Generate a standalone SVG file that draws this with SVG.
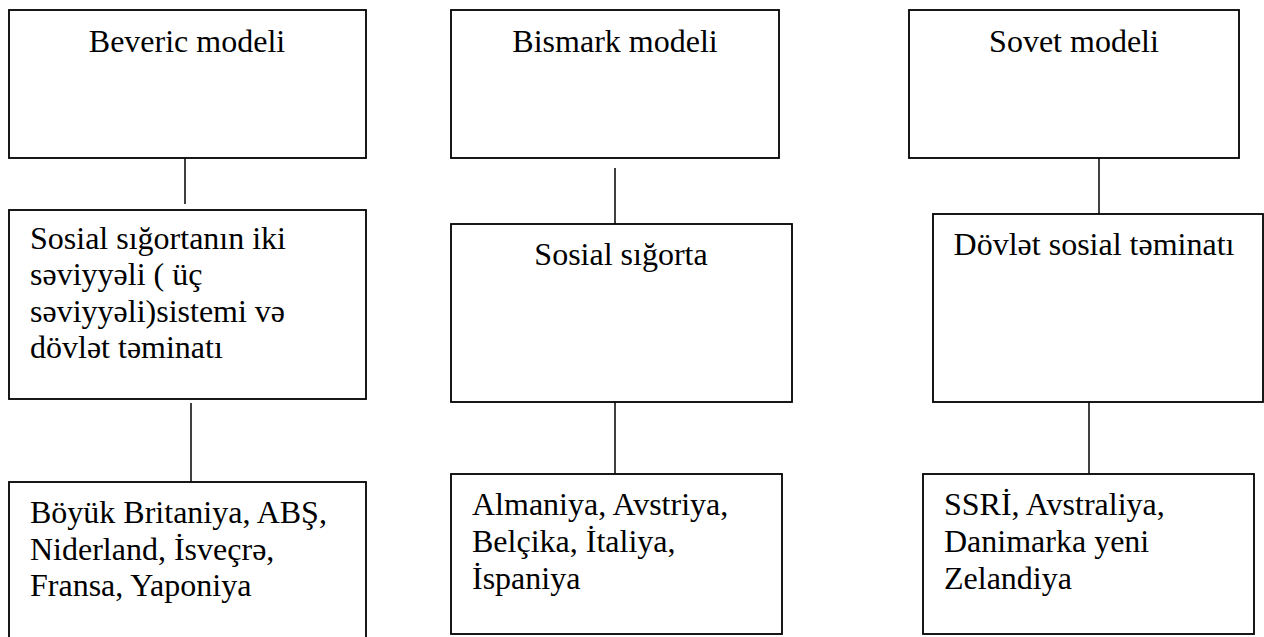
<svg xmlns="http://www.w3.org/2000/svg" width="1264" height="637" viewBox="0 0 1264 637">
  <style>
    .box { fill: #ffffff; stroke: #000000; stroke-width: 1.8; }
    .link { stroke: #000000; stroke-width: 1.5; fill: none; }
    .c { text-anchor: middle; }
  </style>
  <rect width="1264" height="637" fill="#ffffff"/>

  <!-- connectors -->
  <g id="connectors">
    <line class="link" x1="185" y1="158" x2="185" y2="204"/>
    <line class="link" x1="191" y1="403" x2="191" y2="482"/>
    <line class="link" x1="615" y1="168" x2="615" y2="224"/>
    <line class="link" x1="615" y1="399" x2="615" y2="474"/>
    <line class="link" x1="1099" y1="158" x2="1099" y2="214"/>
    <line class="link" x1="1089" y1="402" x2="1089" y2="482"/>
  </g>

  <g font-family="Liberation Serif, DejaVu Serif, serif" font-size="32" fill="#000000">
  <!-- Beveric column -->
  <g id="beveric">
    <rect class="box" x="9" y="10" width="357" height="148"/>
    <text class="c" x="187" y="52">Beveric modeli</text>
  </g>
  <g id="beveric-system">
    <rect class="box" x="9" y="210" width="357" height="189"/>
    <text x="30" y="248.5">Sosial sığortanın iki</text>
    <text x="30" y="285">səviyyəli ( üç</text>
    <text x="30" y="321.5">səviyyəli)sistemi və</text>
    <text x="30" y="358">dövlət təminatı</text>
  </g>
  <g id="beveric-countries">
    <rect class="box" x="9" y="482" width="357" height="170"/>
    <text x="30" y="523">Böyük Britaniya, ABŞ,</text>
    <text x="30" y="559.5">Niderland, İsveçrə,</text>
    <text x="30" y="596">Fransa, Yaponiya</text>
  </g>

  <!-- Bismark column -->
  <g id="bismark">
    <rect class="box" x="451" y="10" width="328" height="148"/>
    <text class="c" x="615" y="52">Bismark modeli</text>
  </g>
  <g id="bismark-system">
    <rect class="box" x="451" y="224" width="341" height="178"/>
    <text class="c" x="621" y="265">Sosial sığorta</text>
  </g>
  <g id="bismark-countries">
    <rect class="box" x="451" y="474" width="331" height="160"/>
    <text x="472" y="515">Almaniya, Avstriya,</text>
    <text x="472" y="552">Belçika, İtaliya,</text>
    <text x="472" y="588.5">İspaniya</text>
  </g>

  <!-- Sovet column -->
  <g id="sovet">
    <rect class="box" x="909" y="10" width="330" height="148"/>
    <text class="c" x="1074" y="52">Sovet modeli</text>
  </g>
  <g id="sovet-system">
    <rect class="box" x="933" y="214" width="330" height="188"/>
    <text class="c" x="1094" y="255">Dövlət sosial təminatı</text>
  </g>
  <g id="sovet-countries">
    <rect class="box" x="923" y="474" width="331" height="160"/>
    <text x="944" y="515">SSRİ, Avstraliya,</text>
    <text x="944" y="552">Danimarka yeni</text>
    <text x="944" y="588.5">Zelandiya</text>
  </g>
  </g>
</svg>
